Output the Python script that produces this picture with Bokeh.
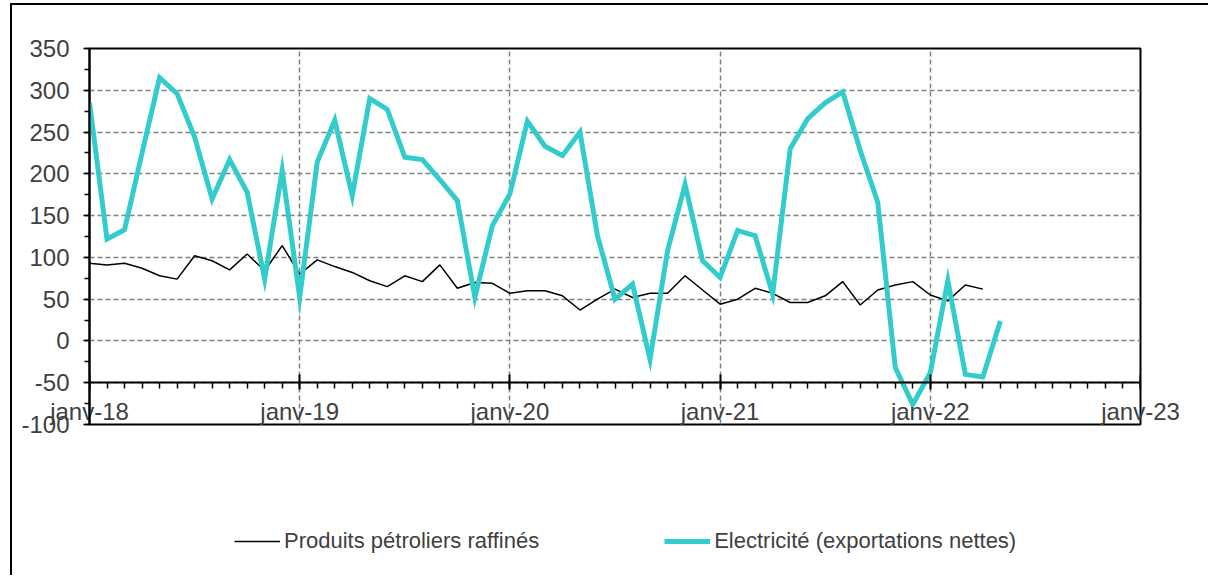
from bokeh.plotting import figure
from bokeh.models import FixedTicker, Legend, LegendItem, Range1d, LinearAxis
from bokeh.layouts import column
from bokeh.embed import file_html
from bokeh.resources import INLINE

# ---- data (monthly, starting janv-2018) ----
year_labels = ["janv-18", "janv-19", "janv-20", "janv-21", "janv-22", "janv-23"]
petrol = [93, 91, 93, 87, 78, 74, 102, 96, 85, 104, 84, 114,
          80, 97, 89, 82, 72, 65, 78, 71, 91, 63, 70, 69,
          57, 60, 60, 54, 37, 50, 62, 52, 57, 57, 78, 61,
          44, 50, 63, 57, 46, 46, 54, 71, 43, 61, 67, 71,
          55, 48, 67, 62]
elec = [285, 122, 133, 225, 315, 296, 244, 170, 217, 178, 74, 204,
        52, 214, 264, 174, 290, 277, 220, 217, 193, 168, 52, 138,
        176, 263, 233, 222, 250, 126, 50, 68, -22, 108, 187, 96,
        76, 132, 126, 56, 230, 266, 285, 298, 228, 166, -32, -76,
        -38, 72, -40, -43, 24]
petrol_name = "Produits pétroliers raffinés"
elec_name = "Electricité (exportations nettes)"
y_ticks = [-100, -50, 0, 50, 100, 150, 200, 250, 300, 350]

x_petrol = list(range(len(petrol)))
x_elec = list(range(len(elec)))
n_months = 12 * (len(year_labels) - 1)
year_pos = [12 * i for i in range(len(year_labels))]
label_map = {pos: lab for pos, lab in zip(year_pos, year_labels)}

FONT = "Liberation Sans"
TXT = "#404040"
CYAN = "#33CCCC"

p = figure(width=1198, height=479, output_backend="svg", toolbar_location=None,
           x_range=Range1d(0, n_months), y_range=Range1d(y_ticks[0], y_ticks[-1]),
           min_border_left=77, min_border_right=70, min_border_top=43, min_border_bottom=60)
p.styles = {"margin-left": "10px", "margin-top": "3px",
            "border-left": "2px solid #000000", "border-top": "2px solid #000000"}

p.outline_line_color = "black"
p.outline_line_width = 2
p.background_fill_color = "white"
p.border_fill_color = "white"

# y axis
p.yaxis.ticker = FixedTicker(ticks=y_ticks, minor_ticks=list(range(-100, 351, 25)))
p.yaxis.major_label_overrides = {t: str(t) for t in y_ticks}
p.yaxis.axis_line_color = "black"
p.yaxis.axis_line_width = 2
p.yaxis.major_tick_line_color = "black"
p.yaxis.major_tick_line_width = 1.5
p.yaxis.major_tick_out = 6
p.yaxis.major_tick_in = 0
p.yaxis.minor_tick_line_color = "black"
p.yaxis.minor_tick_line_width = 1.5
p.yaxis.minor_tick_out = 5
p.yaxis.minor_tick_in = 0
p.yaxis.major_label_text_font = FONT
p.yaxis.major_label_text_font_size = "24px"
p.yaxis.major_label_text_color = TXT
p.yaxis.major_label_standoff = 14

# x axis line + ticks crossing at -50 (labels drawn by a second axis)
xa = p.xaxis[0]
xa.fixed_location = -50
xa.ticker = FixedTicker(ticks=year_pos, minor_ticks=list(range(0, n_months + 1)))
xa.major_label_text_alpha = 0
xa.major_label_text_font_size = "1px"
xa.major_label_standoff = 0
xa.axis_line_color = "black"
xa.axis_line_width = 2
xa.major_tick_line_color = "black"
xa.major_tick_line_width = 2
xa.major_tick_in = 8
xa.major_tick_out = 7
xa.minor_tick_line_color = "black"
xa.minor_tick_line_width = 1.5
xa.minor_tick_in = 0
xa.minor_tick_out = 6

xl = LinearAxis(ticker=FixedTicker(ticks=year_pos), major_label_overrides=label_map,
                axis_line_color=None, major_tick_line_color=None, minor_tick_line_color=None,
                major_tick_in=0, major_tick_out=0, minor_tick_in=0, minor_tick_out=0,
                major_label_text_font=FONT, major_label_text_font_size="24px",
                major_label_text_color=TXT, major_label_standoff=-27)
p.add_layout(xl, "below")

# grids
p.ygrid.ticker = FixedTicker(ticks=y_ticks)
p.ygrid.grid_line_color = "#808080"
p.ygrid.grid_line_width = 1.5
p.ygrid.grid_line_dash = "5 3"
p.xgrid.ticker = FixedTicker(ticks=year_pos)
p.xgrid.grid_line_color = "#808080"
p.xgrid.grid_line_width = 1.5
p.xgrid.grid_line_dash = "5 3"

p.line(x_petrol, petrol, line_color="black", line_width=1.5)
p.line(x_elec, elec, line_color=CYAN, line_width=5, line_join="miter")

# ---- legend strip below the chart (same series, drawn outside its visible range) ----
lg = figure(width=1198, height=93, output_backend="svg", toolbar_location=None,
            x_range=Range1d(-20, -10), y_range=Range1d(-500, -400),
            x_axis_location=None, y_axis_location=None,
            min_border_left=0, min_border_right=0, min_border_top=0, min_border_bottom=0)
lg.styles = {"margin-left": "10px", "border-left": "2px solid #000000"}
lg.outline_line_color = None
lg.xgrid.visible = False
lg.ygrid.visible = False
lr1 = lg.line(x_petrol, petrol, line_color="black", line_width=1.5)
lr2 = lg.line(x_elec, elec, line_color=CYAN, line_width=5)

legend = Legend(items=[LegendItem(label=petrol_name, renderers=[lr1]),
                       LegendItem(label=elec_name, renderers=[lr2])],
                orientation="horizontal", location=(145, 21),
                label_text_font=FONT, label_text_font_size="22px", label_text_color=TXT,
                glyph_width=46, glyph_height=20, label_standoff=4, spacing=125,
                border_line_color=None, background_fill_alpha=0,
                margin=0, padding=0)
lg.add_layout(legend, "center")

layout = column(p, lg, spacing=0)
open("out.html", "w").write(file_html(layout, INLINE))
